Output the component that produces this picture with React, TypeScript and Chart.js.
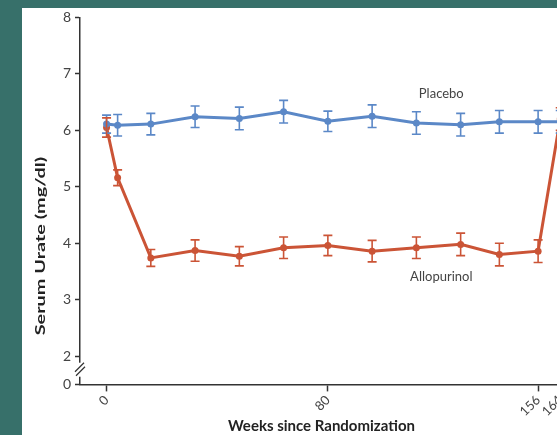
import React, { useEffect, useRef } from "react";
import { Chart, registerables } from "chart.js";

Chart.register(...registerables);

// ---- data ----
const weeks = [0, 4, 16, 32, 48, 64, 80, 96, 112, 128, 142, 156, 164];
const placebo = [6.11, 6.09, 6.11, 6.24, 6.21, 6.33, 6.16, 6.25, 6.13, 6.1, 6.15, 6.15, 6.15];
const placeboErr = [0.16, 0.19, 0.19, 0.19, 0.2, 0.2, 0.18, 0.2, 0.2, 0.2, 0.2, 0.2, 0.2];
const allopurinol = [6.05, 5.16, 3.74, 3.87, 3.77, 3.92, 3.96, 3.86, 3.92, 3.98, 3.8, 3.86, 6.2];
const allopurinolErr = [0.17, 0.14, 0.15, 0.19, 0.17, 0.19, 0.18, 0.19, 0.19, 0.2, 0.2, 0.2, 0.2];
const xTickValues = [0, 80, 156, 164];
const yTickValues = [1.5, 2, 3, 4, 5, 6, 7, 8];
const yTickLabels = ["0", "2", "3", "4", "5", "6", "7", "8"];
const seriesLabels = ["Placebo", "Allopurinol"];
const seriesLabelPos = [
  { week: 121, value: 6.64 },
  { week: 121, value: 3.41 },
];

const BLUE = "#5b88c7";
const RED = "#cb5436";
const AXIS = "#333333";
const FONT = "Lato, 'Open Sans', sans-serif";

export default function App() {
  const ref = useRef<HTMLCanvasElement>(null);

  useEffect(() => {
    const canvas = ref.current;
    if (!canvas) return;

    const errorBars = {
      id: "errorBars",
      afterDatasetsDraw(chart: any) {
        const ctx = chart.ctx;
        const ys = chart.scales.y;
        chart.data.datasets.forEach((ds: any, di: number) => {
          const meta = chart.getDatasetMeta(di);
          const errs: number[] = ds.errors;
          ctx.save();
          ctx.strokeStyle = ds.borderColor;
          ctx.lineWidth = 1.6;
          meta.data.forEach((pt: any, i: number) => {
            const v = ds.data[i].y;
            const top = ys.getPixelForValue(v + errs[i]);
            const bot = ys.getPixelForValue(v - errs[i]);
            ctx.beginPath();
            ctx.moveTo(pt.x, top);
            ctx.lineTo(pt.x, bot);
            ctx.moveTo(pt.x - 4.5, top);
            ctx.lineTo(pt.x + 4.5, top);
            ctx.moveTo(pt.x - 4.5, bot);
            ctx.lineTo(pt.x + 4.5, bot);
            ctx.stroke();
          });
          ctx.restore();
        });
      },
    };

    const decorations = {
      id: "decorations",
      afterDraw(chart: any) {
        const ctx = chart.ctx;
        const xs = chart.scales.x;
        const ys = chart.scales.y;
        // axis break
        const ax = ys.right;
        const yc = ys.getPixelForValue(1.76);
        ctx.save();
        ctx.fillStyle = "#ffffff";
        ctx.fillRect(ax - 2, yc - 7, 4, 14);
        ctx.strokeStyle = AXIS;
        ctx.lineWidth = 1.2;
        ctx.beginPath();
        ctx.moveTo(ax - 5, yc + 2);
        ctx.lineTo(ax + 4, yc - 7);
        ctx.moveTo(ax - 4, yc + 6);
        ctx.lineTo(ax + 5, yc - 3);
        ctx.stroke();
        // series labels
        ctx.fillStyle = "#444444";
        ctx.font = `13px ${FONT}`;
        ctx.textAlign = "center";
        ctx.textBaseline = "middle";
        seriesLabels.forEach((t, i) => {
          ctx.fillText(
            t,
            xs.getPixelForValue(seriesLabelPos[i].week),
            ys.getPixelForValue(seriesLabelPos[i].value)
          );
        });
        // y axis title (stretched along its length like the reference)
        ctx.translate(18, ys.getPixelForValue(3.95));
        ctx.rotate(-Math.PI / 2);
        ctx.scale(1.42, 1);
        ctx.font = `bold 14px ${FONT}`;
        ctx.fillStyle = "#222222";
        ctx.fillText("Serum Urate (mg/dl)", 0, 0);
        ctx.restore();
      },
    };

    const chart = new Chart(canvas, {
      type: "line",
      data: {
        datasets: [
          {
            label: seriesLabels[0],
            data: weeks.map((w, i) => ({ x: w, y: placebo[i] })),
            errors: placeboErr,
            borderColor: BLUE,
            backgroundColor: BLUE,
            borderWidth: 3,
            pointRadius: 3.5,
            pointBorderWidth: 0,
            tension: 0,
            clip: false,
          } as any,
          {
            label: seriesLabels[1],
            data: weeks.map((w, i) => ({ x: w, y: allopurinol[i] })),
            errors: allopurinolErr,
            borderColor: RED,
            backgroundColor: RED,
            borderWidth: 3,
            pointRadius: 3.5,
            pointBorderWidth: 0,
            tension: 0,
            clip: false,
          } as any,
        ],
      },
      options: {
        responsive: false,
        animation: false,
        devicePixelRatio: 1,
        layout: { padding: { top: 8, right: 19, bottom: 0, left: 0 } },
        plugins: {
          legend: { display: false },
          tooltip: { enabled: false },
        },
        scales: {
          x: {
            type: "linear",
            min: -9.6,
            max: 165,
            afterBuildTicks: (s: any) => {
              s.ticks = xTickValues.map((v) => ({ value: v }));
            },
            afterFit: (s: any) => {
              s.height = 50.6;
            },
            ticks: {
              autoSkip: false,
              minRotation: 45,
              maxRotation: 45,
              padding: 1,
              color: "#444444",
              font: { family: FONT, size: 13 },
              callback: (v: any) => String(v),
            },
            grid: {
              drawOnChartArea: false,
              tickLength: 7,
              tickWidth: 1.5,
              color: AXIS,
            },
            border: { display: true, color: AXIS, width: 1.5 },
            title: {
              display: true,
              text: "Weeks since Randomization",
              color: "#222222",
              font: { family: FONT, size: 15, weight: "bold" },
              padding: { top: 0, bottom: 0 },
            },
          },
          y: {
            type: "linear",
            min: 1.5,
            max: 8,
            afterBuildTicks: (s: any) => {
              s.ticks = yTickValues.map((v) => ({ value: v }));
            },
            afterFit: (s: any) => {
              s.width = 58;
            },
            ticks: {
              autoSkip: false,
              padding: 4,
              color: "#444444",
              font: { family: FONT, size: 14 },
              callback: (v: any) => {
                const i = yTickValues.indexOf(Number(v));
                return i >= 0 ? yTickLabels[i] : "";
              },
            },
            grid: {
              drawOnChartArea: false,
              tickLength: 5,
              tickWidth: 1.5,
              color: AXIS,
            },
            border: { display: true, color: AXIS, width: 1.5 },
          },
        },
      },
      plugins: [errorBars, decorations],
    } as any);

    return () => chart.destroy();
  }, []);

  return (
    <div
      style={{
        position: "fixed",
        left: 0,
        top: 0,
        width: 557,
        height: 435,
        background: "#37706a",
        overflow: "hidden",
      }}
    >
      <div
        style={{
          position: "absolute",
          left: 22,
          top: 8,
          width: 600,
          height: 500,
          background: "#ffffff",
        }}
      />
      <canvas
        ref={ref}
        width={560}
        height={430}
        style={{ display: "block", position: "absolute", left: 22, top: 5 }}
      />
    </div>
  );
}
